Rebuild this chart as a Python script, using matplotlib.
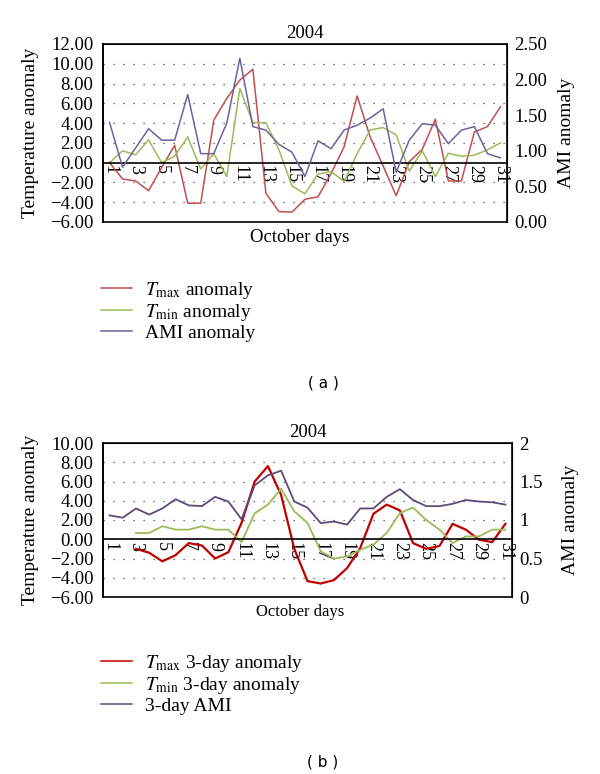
import numpy as np
import matplotlib.pyplot as plt

# dane
days = list(range(1, 32))
tick_days = list(range(1, 32, 2))
nan = np.nan

# panel (a): anomalie dzienne
tmax_a = [0.0, -1.65, -1.85, -2.83, -0.5, 1.75, -4.1, -4.1, 4.3, 6.5,
          8.35, 9.45, -3.1, -4.95, -5.0, -3.7, -3.45, -1.1, 1.6, 6.75,
          2.6, -0.35, -3.35, 0.1, 1.35, 4.4, -1.85, -1.85, 3.1, 3.65, 5.65]
tmin_a = [0.0, 1.2, 0.8, 2.3, 0.0, 0.65, 2.6, -0.65, 0.9, -1.4,
          7.5, 4.05, 4.05, 1.3, -2.35, -3.15, -1.15, -0.9, -1.9, 0.9,
          3.3, 3.55, 2.8, -0.85, 1.2, -1.4, 0.95, 0.65, 0.75, 1.3, 2.0]
ami_a = [1.40, 0.77, 1.04, 1.31, 1.15, 1.15, 1.79, 0.96, 0.96, 1.39,
         2.30, 1.34, 1.29, 1.09, 0.98, 0.64, 1.14, 1.03, 1.29, 1.36,
         1.46, 1.59, 0.70, 1.15, 1.38, 1.36, 1.10, 1.29, 1.34, 0.96, 0.90]

# panel (b): srednie 3-dniowe
tmax_b = [nan, nan, -1.0, -1.4, -2.3, -1.65, -0.4, -0.65, -2.0, -1.35,
          1.7, 6.0, 7.6, 4.6, -1.0, -4.35, -4.6, -4.25, -3.0, -0.9,
          2.65, 3.6, 3.0, -0.4, -1.0, -0.7, 1.6, 1.0, -0.05, -0.3, 1.6]
tmin_b = [nan, nan, 0.65, 0.65, 1.35, 1.0, 1.0, 1.35, 1.0, 1.0,
          -0.3, 2.7, 3.6, 5.25, 2.9, 1.7, -1.25, -2.0, -1.8, -1.1,
          -0.55, 0.65, 2.7, 3.3, 2.0, 1.0, -0.4, 0.3, 0.3, 1.0, 1.0]
ami_b = [1.06, 1.03, 1.15, 1.07, 1.15, 1.27, 1.19, 1.18, 1.30, 1.24,
         1.01, 1.45, 1.58, 1.64, 1.24, 1.16, 0.96, 0.98, 0.94, 1.15,
         1.15, 1.30, 1.40, 1.26, 1.18, 1.18, 1.21, 1.26, 1.24, 1.23, 1.20]

yticks_a = [12, 10, 8, 6, 4, 2, 0, -2, -4, -6]
yticks2_a = [0, 0.5, 1.0, 1.5, 2.0, 2.5]
yticks_b = [10, 8, 6, 4, 2, 0, -2, -4, -6]
yticks2_b = [0, 0.5, 1, 1.5, 2]
yticks2_b_labels = ["0", "0.5", "1", "1.5", "2"]

plt.rcParams['font.family'] = ['Liberation Serif', 'DejaVu Serif']
plt.rcParams['mathtext.fontset'] = 'stix'

W, H = 600, 774
fig = plt.figure(figsize=(W / 100, H / 100), dpi=100)


def px_axes(left, top, right, bottom):
    return fig.add_axes([left / W, 1 - bottom / H, (right - left) / W, (bottom - top) / H])


def fmt(v):
    return f"{v:.2f}".replace("-", "\u2212")


def panel(ax, tmax, tmin, ami, yticks, yticks2, y2labels, cols, lws):
    ax2 = ax.twinx()
    l1, = ax.plot(days, tmax, color=cols[0], lw=lws[0])
    l2, = ax.plot(days, tmin, color=cols[1], lw=lws[1])
    l3, = ax2.plot(days, ami, color=cols[2], lw=lws[2])
    ax.set_xlim(0.5, 31.5)
    ax.set_ylim(min(yticks), max(yticks))
    ax.set_yticks(yticks)
    ax.set_yticklabels([fmt(v) for v in yticks], fontsize=13.5)
    ax2.set_ylim(min(yticks2), max(yticks2))
    ax2.set_yticks(yticks2)
    ax2.set_yticklabels(y2labels, fontsize=13.5)
    for v in yticks:
        if v not in (0, min(yticks), max(yticks)):
            ax.axhline(v, color='#444444', lw=0.9, ls=(0, (1, 7)), zorder=0)
    # os kategorii przechodzi przez zero
    ax.spines['bottom'].set_position(('data', 0))
    ax.spines['bottom'].set_linewidth(1.2)
    ax.set_xticks(tick_days)
    ax.set_xticklabels([str(d) for d in tick_days], rotation=-90, fontsize=13)
    ax.tick_params(axis='x', length=0, pad=2)
    ax.tick_params(axis='y', length=0, pad=7)
    ax2.tick_params(axis='y', length=0, pad=5)
    for s in ax2.spines.values():
        s.set_linewidth(1.2)
    ax.spines['left'].set_linewidth(1.2)
    ax.set_title("2004", fontsize=13.5, pad=4)
    return ax2, [l1, l2, l3]


def add_legend(lines, labels, top):
    leg = fig.legend(lines, labels, loc='upper left', bbox_to_anchor=(101 / W, 1 - top / H),
                     frameon=False, fontsize=14, handlelength=1.6, handletextpad=0.65,
                     labelspacing=0.05, borderpad=0, borderaxespad=0)
    for ln in leg.get_lines():
        ln.set_linewidth(1.1)


# (a)
ax = px_axes(103, 44, 507, 222)
ax2, lines = panel(ax, tmax_a, tmin_a, ami_a, yticks_a, yticks2_a,
                   [f"{v:.2f}" for v in yticks2_a],
                   ['#C0504D', '#9BBB59', '#7060A0'], [1.1, 1.1, 1.1])
ax.set_ylabel("Temperature anomaly", fontsize=14, labelpad=8)
ax2.set_ylabel("AMI anomaly", fontsize=14, labelpad=8)
fig.text(300 / W, 1 - 238 / H, "October days", fontsize=13.5, ha='center', va='center')
add_legend(lines, [r"$T_{\mathrm{max}}$ anomaly", r"$T_{\mathrm{min}}$ anomaly", "AMI anomaly"], 280)
fig.text(323 / W, 1 - 383 / H, "( a )", family='DejaVu Sans', fontsize=11, ha='center', va='center')

# (b)
ax = px_axes(103, 443, 512, 597)
ax2, lines = panel(ax, tmax_b, tmin_b, ami_b, yticks_b, yticks2_b, yticks2_b_labels,
                   ['#C00000', '#9BBB59', '#5F497A'], [1.6, 1.3, 1.3])
ax.set_ylabel("Temperature anomaly", fontsize=14, labelpad=8)
ax2.set_ylabel("AMI anomaly", fontsize=14, labelpad=14)
fig.text(300 / W, 1 - 612 / H, "October days", fontsize=12, ha='center', va='center')
add_legend(lines, [r"$T_{\mathrm{max}}$ 3-day anomaly", r"$T_{\mathrm{min}}$ 3-day anomaly", "3-day AMI"], 653)
fig.text(323 / W, 1 - 762 / H, "( b )", family='DejaVu Sans', fontsize=11, ha='center', va='center')

fig.savefig("out.png", dpi=100)
